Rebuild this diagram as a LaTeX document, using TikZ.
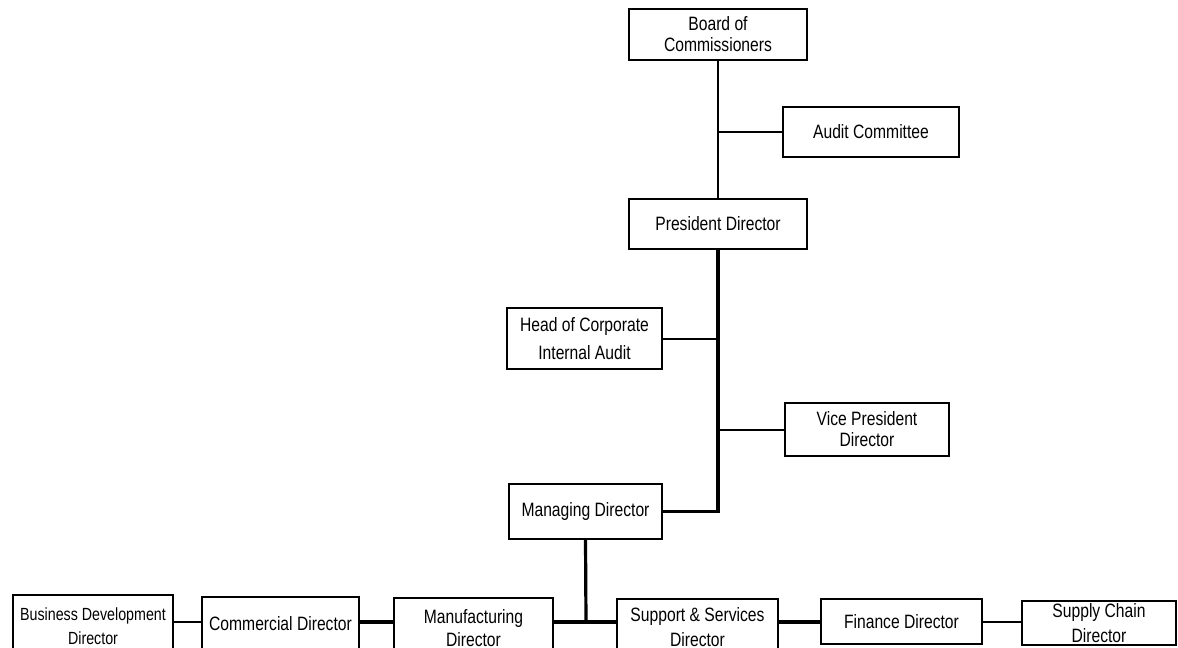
\documentclass[tikz,border=0pt]{standalone}
\usepackage{fontspec}
\setmainfont{Liberation Sans}[FakeStretch=0.81]
\newdimen\px \px=0.75pt
\begin{document}
\begin{tikzpicture}[x=0.75pt,y=-0.75pt,
  post/.style={draw,line width=1.5pt,align=center,inner sep=1pt,
    font=\fontsize{14.5}{15.8}\selectfont},
  link/.style={line width=1.5pt},
  mainlink/.style={line width=2.4pt}]
  \useasboundingbox (0,0) rectangle (1178,647);
  \clip (0,0) rectangle (1178,647);
  % top of the chart
  \node[post,minimum width=178\px,minimum height=51\px] (board) at (718,34.5) {Board of\\Commissioners};
  \node[post,minimum width=176\px,minimum height=50\px] (audit) at (871,132) {Audit Committee};
  \node[post,minimum width=178\px,minimum height=50\px] (president) at (718,224) {President Director};
  \node[post,minimum width=155\px,minimum height=61\px] (hcia) at (584.5,338.5) {Head of Corporate\\[5pt]Internal Audit};
  \node[post,minimum width=164\px,minimum height=53\px] (vpd) at (867,429.5) {Vice President\\Director};
  \node[post,minimum width=153\px,minimum height=55\px] (md) at (585.5,511.5) {Managing Director};
  % directors row
  \coordinate (bus) at (586,622);
  \node[post,minimum width=160\px,minimum height=62\px,
    font=\fontsize{13.2}{15.8}\selectfont] (bdd) at (93,626) {Business Development\\[2.5pt]Director};
  \node[post,minimum width=157\px,minimum height=54\px] (cd) at (280.5,624) {Commercial Director};
  \node[post,minimum width=159\px,minimum height=60\px] (mfd) at (473.5,628) {Manufacturing\\[2pt]Director};
  \node[post,minimum width=161\px,minimum height=56\px] (ssd) at (697.5,627) {Support \& Services\\[3pt]Director};
  \node[post,minimum width=161\px,minimum height=45\px] (fd) at (901.5,621.5) {Finance Director};
  \node[post,inner sep=0pt,minimum width=154\px,minimum height=44\px,
    font=\fontsize{14.5}{18.5}\selectfont] (scd) at (1099,623) {Supply Chain\\Director};
  % connectors
  \draw[link] (board.south) -- (president.north);
  \draw[link] (audit.west) -- (audit.west -| board.south);
  \draw[mainlink] (president.south) |- (md.east);
  \draw[link] (hcia.east) -- (hcia.east -| president.south);
  \draw[link] (vpd.west) -- (vpd.west -| president.south);
  \draw[mainlink] (md.south) -- (bus);
  \draw[mainlink] (bus -| mfd.east) -- (bus -| ssd.west);
  \draw[link] (bus -| bdd.east) -- (bus -| cd.west);
  \draw[mainlink] (bus -| cd.east) -- (bus -| mfd.west);
  \draw[mainlink] (bus -| ssd.east) -- (bus -| fd.west);
  \draw[link] (bus -| fd.east) -- (bus -| scd.west);
\end{tikzpicture}
\end{document}
